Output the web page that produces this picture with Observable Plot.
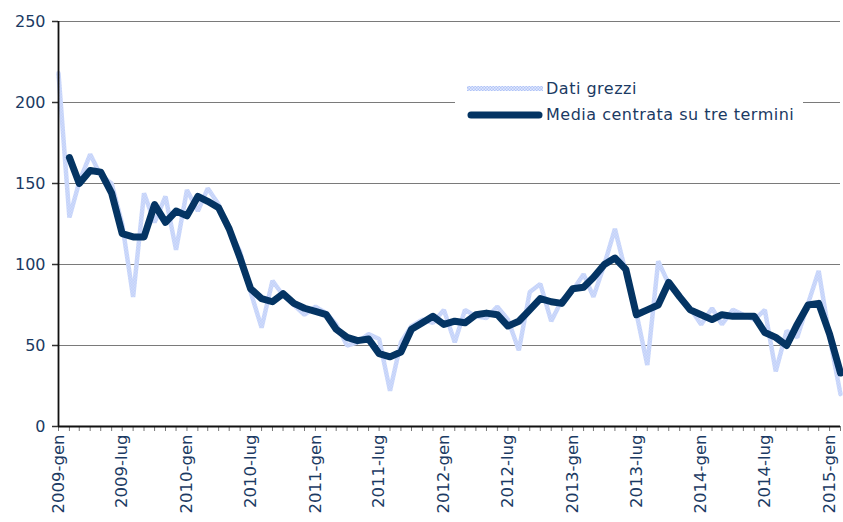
<!DOCTYPE html>
<html>
<head>
<meta charset="utf-8">
<script src="https://cdn.jsdelivr.net/npm/d3@7"></script>
<script src="https://cdn.jsdelivr.net/npm/@observablehq/plot@0.6"></script>
<style>
  html, body { margin: 0; padding: 0; background: #fff; }
  #wrap { position: relative; width: 843px; height: 522px; font-family: "DejaVu Sans", sans-serif; }
  #legend { position: absolute; left: 455px; top: 76px; width: 348px; height: 54px; background: #fff; color: #1b3a63; font-size: 16px; letter-spacing: 0.5px; }
  #legend .row { position: absolute; left: 12px; display: flex; align-items: center; }
  #legend svg { margin-right: 3px; }
</style>
</head>
<body>
<div id="wrap"></div>
<script>
// Monthly series from 2009-gen to 2015-feb
const startYear = 2009;
const rawValues = [218,129,151,168,155,150,125,80,144,126,142,109,146,133,147,137,121,108,83,61,90,81,75,69,74,70,63,50,52,57,54,22,52,62,66,64,72,52,72,68,67,74,66,47,83,88,65,78,84,94,80,100,122,95,70,38,102,88,80,73,63,73,63,72,69,66,72,34,59,55,76,96,55,20];
const maValues = [null,166,150,158,157,144,119,117,117,137,126,133,130,142,139,135,122,104,85,79,77,82,76,73,71,69,60,55,53,54,45,43,46,60,64,68,63,65,64,69,70,69,62,65,72,79,77,76,85,86,92,100,104,97,69,72,75,89,80,72,69,66,69,68,68,68,58,55,50,63,75,76,57,33];
const monthNames = ["gen","feb","mar","apr","mag","giu","lug","ago","set","ott","nov","dic"];
const yTicks = [0, 50, 100, 150, 200, 250];
const seriesNames = ["Dati grezzi", "Media centrata su tre termini"];

const dates = rawValues.map((_, i) => new Date(Date.UTC(startYear, i, 1)));
const rows = dates.map((d, i) => ({date: d, raw: rawValues[i], ma: maValues[i]}));
const labelDates = dates.filter(d => d.getUTCMonth() % 6 === 0);
const fmt = d => `${d.getUTCFullYear()}-${monthNames[d.getUTCMonth()]}`;

const textColor = "#1b3a63";
const chart = Plot.plot({
  width: 843,
  height: 522,
  marginLeft: 58,
  marginRight: 3,
  marginTop: 21,
  marginBottom: 96,
  style: {fontFamily: "DejaVu Sans, sans-serif", background: "#fff"},
  x: {type: "utc", domain: [dates[0], dates[dates.length - 1]]},
  y: {domain: [0, 250]},
  marks: [
    Plot.ruleY(yTicks.filter(v => v > 0), {stroke: "#7a7a7a", strokeWidth: 1.2}),
    Plot.axisY({ticks: yTicks, tickSize: 6, tickPadding: 7, tickFormat: d => String(d), fontSize: 16, color: textColor, stroke: "#333", strokeWidth: 1.5, style: {letterSpacing: "1px"}}),
    Plot.axisX({ticks: dates, tickSize: 5, tickFormat: () => "", stroke: "#777"}),
    Plot.axisX({ticks: labelDates, tickSize: 0, tickPadding: 8, tickRotate: -90, tickFormat: fmt, fontSize: 16.5, color: textColor, style: {letterSpacing: "1.6px"}}),
    Plot.line(rows, {x: "date", y: "raw", stroke: "#c3d3fa", strokeWidth: 4.5, strokeLinejoin: "miter", className: "rawline"}),
    Plot.line(rows, {x: "date", y: "ma", stroke: "#043463", strokeWidth: 7, strokeLinejoin: "round", strokeLinecap: "round"}),
    Plot.ruleX([dates[0]], {y1: 0, y2: 250, stroke: "#111", strokeWidth: 1.8}),
    Plot.ruleY([0], {stroke: "#111", strokeWidth: 2})
  ]
});
const wrap = document.getElementById("wrap");
wrap.appendChild(chart);

// checkered texture for the raw series, as in the original
const svg = d3.select(chart);
const pat = svg.insert("defs", ":first-child").append("pattern")
  .attr("id", "chkRaw").attr("width", 3).attr("height", 3).attr("patternUnits", "userSpaceOnUse");
pat.append("rect").attr("width", 3).attr("height", 3).attr("fill", "#e2e9fd");
pat.append("rect").attr("width", 1.5).attr("height", 1.5).attr("fill", "#b0c4f7");
pat.append("rect").attr("x", 1.5).attr("y", 1.5).attr("width", 1.5).attr("height", 1.5).attr("fill", "#b0c4f7");
svg.selectAll(".rawline, .rawline path").attr("stroke", "url(#chkRaw)");

const legend = document.createElement("div");
legend.id = "legend";
legend.innerHTML = `
  <div class="row" style="top:3px"><svg width="76" height="10"><defs><pattern id="chk" width="3" height="3" patternUnits="userSpaceOnUse"><rect width="3" height="3" fill="#e2e9fd"/><rect width="1.5" height="1.5" fill="#b0c4f7"/><rect x="1.5" y="1.5" width="1.5" height="1.5" fill="#b0c4f7"/></pattern></defs><rect x="0" y="2" width="76" height="5" fill="url(#chk)"/></svg><span>${seriesNames[0]}</span></div>
  <div class="row" style="top:29px"><svg width="76" height="10"><line x1="4" y1="5" x2="72" y2="5" stroke="#043463" stroke-width="7" stroke-linecap="round"/></svg><span>${seriesNames[1]}</span></div>`;
wrap.appendChild(legend);
</script>
</body>
</html>
